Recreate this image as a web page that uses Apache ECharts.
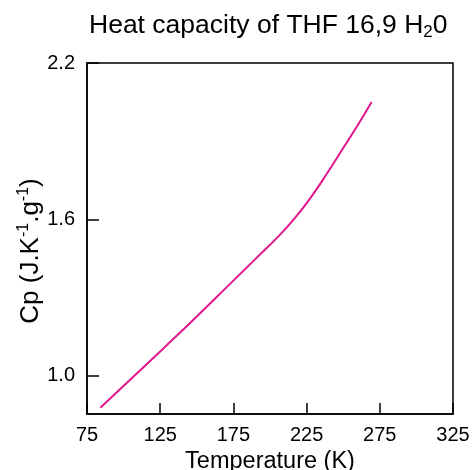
<!DOCTYPE html>
<html>
<head>
<meta charset="utf-8">
<script src="https://cdn.jsdelivr.net/npm/echarts@6/dist/echarts.min.js"></script>
<style>
  html, body { margin: 0; padding: 0; background: #fff; }
  #chart { width: 475px; height: 470px; }
</style>
</head>
<body>
<div id="chart"></div>
<script>
// values
var temperature = [84.1, 105, 125, 150, 172.7, 189.8, 206.9, 217.1, 227.3, 238.9, 250, 260, 269.4];
var cp = [0.878, 0.988, 1.094, 1.228, 1.353, 1.447, 1.542, 1.606, 1.680, 1.776, 1.874, 1.962, 2.050];
var xTicks = [75, 125, 175, 225, 275, 325];
var yTicks = [1.0, 1.6, 2.2];

var points = temperature.map(function (t, i) { return [t, cp[i]]; });
var font = 'Liberation Sans, Arial, sans-serif';

var chart = echarts.init(document.getElementById('chart'), null, { renderer: 'canvas' });
chart.setOption({
  animation: false,
  title: {
    text: 'Heat capacity of THF 16,9 H{sub|2}0',
    left: 84,
    top: 6,
    textStyle: {
      fontFamily: font, fontSize: 26.5, fontWeight: 'normal', color: '#000',
      rich: { sub: { fontFamily: font, fontSize: 17, padding: [13, 0, 0, 0], color: '#000' } }
    }
  },
  grid: {
    left: 87, right: 22, top: 63, bottom: 56,
    outerBoundsMode: 'none',
    show: true, borderColor: '#000', borderWidth: 1.5
  },
  xAxis: {
    type: 'value', min: 75, max: 325,
    name: 'Temperature (K)', nameLocation: 'middle', nameGap: 36, nameMoveOverlap: false,
    nameTextStyle: { fontFamily: font, fontSize: 23.5, color: '#000' },
    axisLine: { show: true, lineStyle: { color: '#000', width: 1.5 } },
    axisTick: { show: true, inside: true, length: 11, customValues: xTicks, lineStyle: { color: '#000', width: 1.5 } },
    axisLabel: { customValues: xTicks, fontFamily: font, fontSize: 20, color: '#000', margin: 11 },
    splitLine: { show: false }
  },
  yAxis: {
    type: 'value', min: 0.854, max: 2.2,
    name: 'Cp (J.K{sup|-1}.g{sup|-1})', nameLocation: 'middle', nameGap: 41, nameRotate: 90,
    nameMoveOverlap: false,
    nameTextStyle: {
      fontFamily: font, fontSize: 26, color: '#000', padding: [0, 25, 0, 0],
      rich: { sup: { fontFamily: font, fontSize: 16, padding: [0, 0, 14, 0], color: '#000' } }
    },
    axisLine: { show: true, lineStyle: { color: '#000', width: 1.5 } },
    axisTick: { show: true, inside: true, length: 12, customValues: yTicks, lineStyle: { color: '#000', width: 1.5 } },
    axisLabel: {
      customValues: yTicks, fontFamily: font, fontSize: 20, color: '#000', margin: 12,
      formatter: function (v) { return v.toFixed(1); }
    },
    splitLine: { show: false }
  },
  series: [{
    type: 'line',
    data: points,
    smooth: 0.5,
    showSymbol: false,
    lineStyle: { color: '#e0168f', width: 2 }
  }]
});
</script>
</body>
</html>
